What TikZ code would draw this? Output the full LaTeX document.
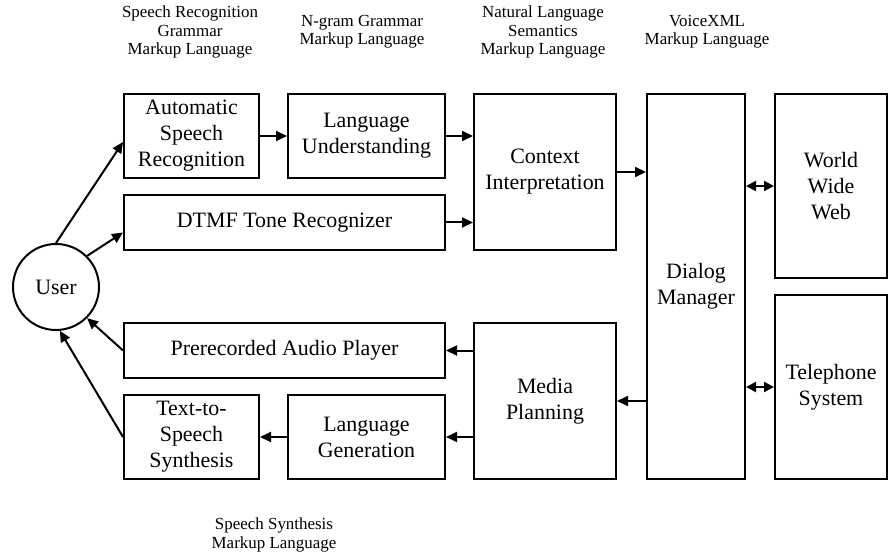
\documentclass[tikz,border=0pt]{standalone}
\usepackage{fontspec}
\setmainfont{Liberation Serif}
\usetikzlibrary{positioning, arrows.meta}

\begin{document}
\begin{tikzpicture}[x=1bp, y=-1bp]
    % Define styles for blocks and arrows
    \tikzstyle{rectblock} = [rectangle, draw, line width=2bp, align=center, inner sep=0pt, font=\fontsize{22}{26}\selectfont]
    \tikzstyle{userblock} = [circle, draw, line width=2bp, minimum size=86bp, inner sep=0pt, font=\fontsize{22}{26}\selectfont]
    \tikzstyle{mlabel} = [align=center, font=\fontsize{17}{18.5}\selectfont]
    \tikzstyle{arrow} = [line width=2bp, -{Triangle[length=11bp, width=10bp]}]
    \tikzstyle{twoway} = [line width=2bp, {Triangle[length=10bp, width=10bp]}-{Triangle[length=10bp, width=10bp]}]

    \useasboundingbox (0,0) rectangle (889,558);

    % Nodes
    \node (user) [userblock] at (56,287) {User};
    \node (asr) [rectblock, minimum width=135bp, minimum height=84bp] at (191.5,136) {Automatic\\Speech\\Recognition};
    \node (lu) [rectblock, minimum width=157bp, minimum height=84bp, right=27bp of asr] {Language\\Understanding};
    \node (dtmf) [rectblock, minimum width=321bp, minimum height=55bp, below=15bp of asr.south west, anchor=north west] {DTMF Tone Recognizer};
    \node (ci) [rectblock, minimum width=142bp, minimum height=156bp, right=27bp of lu.north east, anchor=north west] {Context\\Interpretation};
    \node (dm) [rectblock, minimum width=98bp, minimum height=385bp, right=29bp of ci.north east, anchor=north west] {Dialog\\Manager};
    \node (www) [rectblock, minimum width=112bp, minimum height=184bp, right=28bp of dm.north east, anchor=north west] {World\\Wide\\Web};
    \node (tel) [rectblock, minimum width=112bp, minimum height=184bp, right=28bp of dm.south east, anchor=south west] {Telephone\\System};

    \node (prec) [rectblock, minimum width=321bp, minimum height=55bp] at (284.5,350.5) {Prerecorded Audio Player};
    \node (tts) [rectblock, minimum width=135bp, minimum height=84bp, below=15bp of prec.south west, anchor=north west] {Text-to-\\Speech\\Synthesis};
    \node (lg) [rectblock, minimum width=157bp, minimum height=84bp, right=27bp of tts] {Language\\Generation};
    \node (mp) [rectblock, minimum width=142bp, minimum height=156bp, right=27bp of lg.south east, anchor=south west] {Media\\Planning};

    % Markup languages
    \node (srgml) [mlabel] at (190,32) {Speech Recognition\\Grammar\\Markup Language};
    \node (ngram) [mlabel] at (362,32) {N-gram Grammar\\Markup Language};
    \node (nlsml) [mlabel] at (543,32) {Natural Language\\Semantics\\Markup Language};
    \node (vxml) [mlabel] at (707,32) {VoiceXML\\Markup Language};
    \node (ssml) [mlabel] at (274,535) {Speech Synthesis\\Markup Language};

    % Arrows
    \draw [arrow] (user.north) -- ([yshift=-6bp]asr.west);
    \draw [arrow] (user.45) -- ([yshift=-10bp]dtmf.west);
    \draw [arrow] (asr) -- (lu);
    \draw [arrow] (lu.east) -- (lu.east -| ci.west);
    \draw [arrow] (dtmf.east) -- (dtmf.east -| ci.west);
    \draw [arrow] (ci.east) -- (ci.east -| dm.west);
    \draw [twoway] (www.west -| dm.east) -- (www.west);
    \draw [twoway] (tel.west -| dm.east) -- (tel.west);
    \draw [arrow] (mp.east -| dm.west) -- (mp.east);
    \draw [arrow] (prec.east -| mp.west) -- (prec.east);
    \draw [arrow] (lg.east -| mp.west) -- (lg.east);
    \draw [arrow] (lg) -- (tts);
    \draw [arrow] (prec.west) -- (user.-45);
    \draw [arrow] (tts.west) -- (user.-85);

\end{tikzpicture}
\end{document}
